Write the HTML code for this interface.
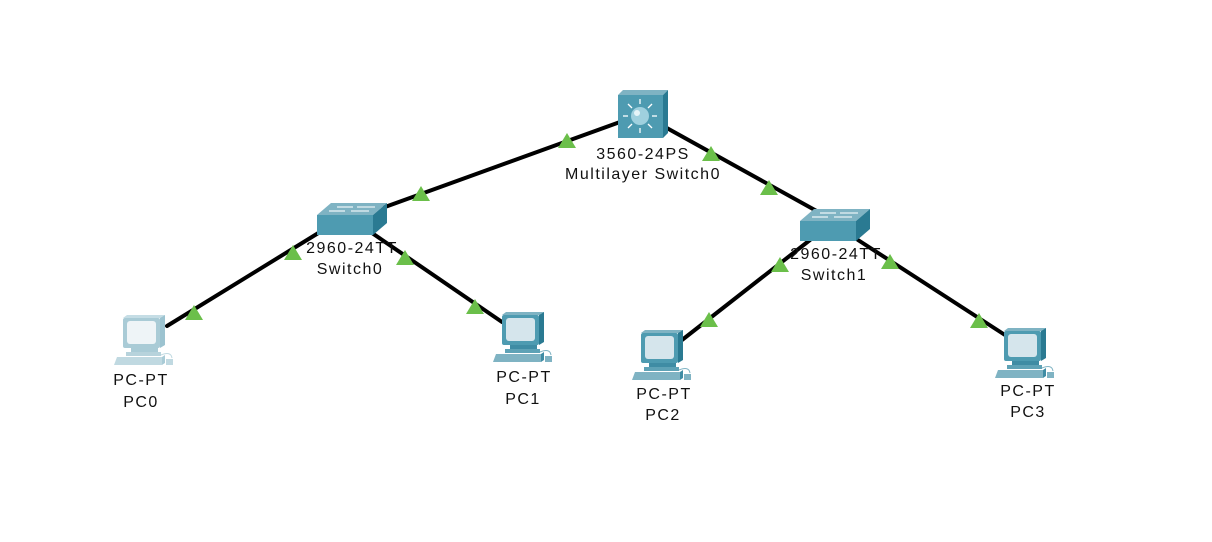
<!DOCTYPE html>
<html><head><meta charset="utf-8"><style>
html,body{margin:0;padding:0;background:#fff;width:1212px;height:542px;overflow:hidden}
svg text{font-family:"Liberation Sans",sans-serif;font-size:16px;letter-spacing:1.5px;fill:#111;text-anchor:middle}
</style></head><body>
<svg width="1212" height="542" viewBox="0 0 1212 542" xmlns="http://www.w3.org/2000/svg">
<defs>
<g id="pc">
  <polygon points="0,3 4,0 42,0 37,3" fill="#7fb3c3"/>
  <polygon points="37,3 42,0 42,30 37,33" fill="#2a7a92"/>
  <rect x="0" y="3" width="37" height="30" rx="2" fill="#4e9bb1"/>
  <rect x="4" y="6" width="29" height="23" rx="3" fill="#d5e5ec"/>
  <rect x="8" y="33" width="27" height="4" fill="#3f8ca4"/>
  <rect x="3" y="37" width="35" height="4" fill="#5ea2b6"/>
  <polygon points="-6,42 39,42 39,50 -9,50" fill="#7fb3c3"/>
  <polygon points="39,42 42,40 42,48 39,50" fill="#3f8ca4"/>
  <path d="M38,40 Q48,36 49,43" stroke="#7fb3c3" fill="none" stroke-width="1"/>
  <rect x="43" y="44" width="7" height="6" fill="#7fb3c3"/>
</g>
<g id="pcl">
  <polygon points="0,3 4,0 42,0 37,3" fill="#c5dde5"/>
  <polygon points="37,3 42,0 42,30 37,33" fill="#9cc3d0"/>
  <rect x="0" y="3" width="37" height="30" rx="2" fill="#a9cbd6"/>
  <rect x="4" y="6" width="29" height="23" rx="3" fill="#eef4f7"/>
  <rect x="8" y="33" width="27" height="4" fill="#a9cbd6"/>
  <rect x="3" y="37" width="35" height="4" fill="#b7d3dc"/>
  <polygon points="-6,42 39,42 39,50 -9,50" fill="#c0d9e1"/>
  <polygon points="39,42 42,40 42,48 39,50" fill="#a9cbd6"/>
  <path d="M38,40 Q48,36 49,43" stroke="#c0d9e1" fill="none" stroke-width="1"/>
  <rect x="43" y="44" width="7" height="6" fill="#c0d9e1"/>
</g>
<g id="sw">
  <polygon points="0,12 14,0 70,0 56,12" fill="#7fb3c3"/>
  <polygon points="56,12 70,0 70,20 56,32" fill="#2a7a92"/>
  <rect x="0" y="12" width="56" height="20" fill="#4e9bb1"/>
  <g stroke="#e8f2f5" stroke-width="1.3">
    <line x1="20" y1="4" x2="36" y2="4"/><line x1="40" y1="4" x2="58" y2="4"/>
    <line x1="12" y1="8" x2="28" y2="8"/><line x1="34" y1="8" x2="52" y2="8"/>
  </g>
</g>
<polygon id="tri" points="0,-9 9,6 -9,6" fill="#6bbf4a"/>
</defs>
<g stroke="#000" stroke-width="4" stroke-linecap="round">
  <line x1="620" y1="122" x2="385" y2="207"/>
  <line x1="665" y1="127" x2="822" y2="214"/>
  <line x1="320" y1="232" x2="167" y2="326"/>
  <line x1="372" y1="233" x2="502" y2="322"/>
  <line x1="810" y1="240" x2="682" y2="340"/>
  <line x1="858" y1="240" x2="1005" y2="335"/>
</g>
<polygon points="618,95 623,90 668,90 663,95" fill="#7fb3c3"/>
<polygon points="663,95 668,90 668,133 663,138" fill="#2a7a92"/>
<rect x="618" y="95" width="45" height="43" fill="#4e9bb1"/>
<circle cx="640" cy="116" r="9" fill="#9fd0de"/>
<circle cx="637" cy="113" r="3" fill="#e6f4f8"/>
<g stroke="#fff" stroke-width="1.3">
  <line x1="640" y1="104" x2="640" y2="99"/><line x1="640" y1="128" x2="640" y2="133"/>
  <line x1="628" y1="116" x2="623" y2="116"/><line x1="652" y1="116" x2="657" y2="116"/>
  <line x1="632" y1="108" x2="628" y2="104"/><line x1="648" y1="108" x2="652" y2="104"/>
  <line x1="632" y1="124" x2="628" y2="128"/><line x1="648" y1="124" x2="652" y2="128"/>
</g>
<use href="#sw" x="317" y="203"/>
<use href="#sw" x="800" y="209"/>
<use href="#pcl" x="123" y="315"/>
<use href="#pc" x="502" y="312"/>
<use href="#pc" x="641" y="330"/>
<use href="#pc" x="1004" y="328"/>
<use href="#tri" x="567" y="142"/>
<use href="#tri" x="421" y="195"/>
<use href="#tri" x="711" y="155"/>
<use href="#tri" x="769" y="189"/>
<use href="#tri" x="293" y="254"/>
<use href="#tri" x="194" y="314"/>
<use href="#tri" x="405" y="259"/>
<use href="#tri" x="475" y="308"/>
<use href="#tri" x="780" y="266"/>
<use href="#tri" x="709" y="321"/>
<use href="#tri" x="890" y="263"/>
<use href="#tri" x="979" y="322"/>
<text x="643" y="159">3560-24PS</text>
<text x="643" y="179">Multilayer Switch0</text>
<text x="352" y="253">2960-24TT</text>
<text x="350" y="274">Switch0</text>
<text x="836" y="259">2960-24TT</text>
<text x="834" y="280">Switch1</text>
<text x="141" y="385">PC-PT</text>
<text x="141" y="407">PC0</text>
<text x="524" y="382">PC-PT</text>
<text x="523" y="404">PC1</text>
<text x="664" y="399">PC-PT</text>
<text x="663" y="420">PC2</text>
<text x="1028" y="396">PC-PT</text>
<text x="1028" y="417">PC3</text>
</svg>
</body></html>
